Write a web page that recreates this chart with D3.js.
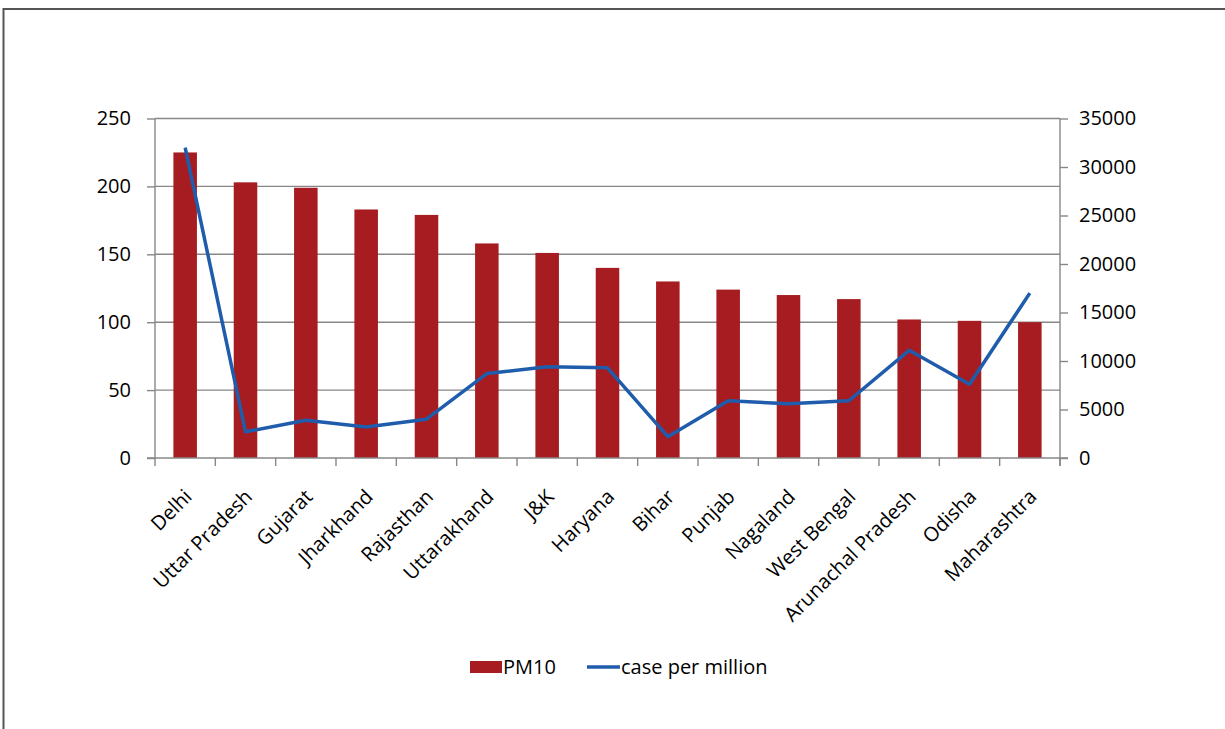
<!DOCTYPE html>
<html>
<head>
<meta charset="utf-8">
<script src="https://cdn.jsdelivr.net/npm/d3@7"></script>
<style>
  body { margin: 0; background: #fff; }
  text { font-family: "Open Sans", Lato, sans-serif; fill: #000; }
</style>
</head>
<body>
<div id="chart"></div>
<script>
// data
const states = ["Delhi", "Uttar Pradesh", "Gujarat", "Jharkhand", "Rajasthan", "Uttarakhand", "J&K",
  "Haryana", "Bihar", "Punjab", "Nagaland", "West Bengal", "Arunachal Pradesh", "Odisha", "Maharashtra"];
const pm10 = [225, 203, 199, 183, 179, 158, 151, 140, 130, 124, 120, 117, 102, 101, 100];
const casesPerMillion = [32000, 2700, 3900, 3200, 4000, 8700, 9400, 9300, 2200, 5900, 5600, 5900, 11100, 7600, 17000];
const leftTicks = [0, 50, 100, 150, 200, 250];
const rightTicks = [0, 5000, 10000, 15000, 20000, 25000, 30000, 35000];

const W = 1225, H = 729;
const margin = { top: 118.5, right: 165, bottom: 271, left: 155 };
const barColor = "#a61c21";
const lineColor = "#1f5dac";
const gridColor = "#878787";
const fontSize = "20px";

const svg = d3.select("#chart").append("svg")
    .attr("width", W)
    .attr("height", H);

// outer frame
svg.append("rect")
    .attr("x", 3.5).attr("y", 9)
    .attr("width", W + 10).attr("height", H + 10)
    .attr("fill", "none")
    .attr("stroke", "#555")
    .attr("stroke-width", 2);

const x = d3.scaleBand()
    .domain(states)
    .range([margin.left, W - margin.right])
    .paddingInner(0.61)
    .paddingOuter(0.305);

const yL = d3.scaleLinear().domain([0, 250]).range([H - margin.bottom, margin.top]);
const yR = d3.scaleLinear().domain([0, 35000]).range([H - margin.bottom, margin.top]);

// GRID LINES
svg.selectAll(".grid-line")
    .data(leftTicks.filter(d => d > 0))
    .enter()
    .append("line")
    .attr("x1", margin.left)
    .attr("x2", W - margin.right)
    .attr("y1", d => yL(d))
    .attr("y2", d => yL(d))
    .attr("stroke", gridColor)
    .attr("stroke-width", 1.4);

// BARS
svg.selectAll(".bar")
    .data(states)
    .enter()
    .append("rect")
    .attr("x", d => x(d))
    .attr("y", (d, i) => yL(pm10[i]))
    .attr("width", x.bandwidth())
    .attr("height", (d, i) => yL(0) - yL(pm10[i]))
    .attr("fill", barColor);

// LINE
const line = d3.line()
    .x(d => x(d.state) + x.bandwidth() / 2)
    .y(d => yR(d.value));

svg.append("path")
    .datum(states.map((s, i) => ({ state: s, value: casesPerMillion[i] })))
    .attr("d", line)
    .attr("fill", "none")
    .attr("stroke", lineColor)
    .attr("stroke-width", 3.5)
    .attr("stroke-linejoin", "round");

// LEFT AXIS
const leftAxis = svg.append("g")
    .attr("transform", `translate(${margin.left},0)`)
    .call(d3.axisLeft(yL).tickValues(leftTicks).tickSize(8).tickPadding(16));

// RIGHT AXIS
const rightAxis = svg.append("g")
    .attr("transform", `translate(${W - margin.right},0)`)
    .call(d3.axisRight(yR).tickValues(rightTicks).tickFormat(d3.format("d")).tickSize(8).tickPadding(11));

// X AXIS (ticks at category boundaries)
const step = x.step();
const boundaries = d3.range(states.length + 1).map(i => margin.left + i * step);
const xAxis = svg.append("g");
xAxis.append("line")
    .attr("x1", margin.left - 8).attr("x2", W - margin.right + 8)
    .attr("y1", yL(0)).attr("y2", yL(0))
    .attr("stroke", gridColor).attr("stroke-width", 1.4);
xAxis.selectAll(".xtick")
    .data(boundaries)
    .enter()
    .append("line")
    .attr("x1", d => d).attr("x2", d => d)
    .attr("y1", yL(0)).attr("y2", yL(0) + 8)
    .attr("stroke", gridColor).attr("stroke-width", 1.4);

xAxis.selectAll(".xlabel")
    .data(states)
    .enter()
    .append("text")
    .attr("transform", d => `translate(${x(d) + x.bandwidth() / 2 + 8},${yL(0) + 40}) rotate(-45)`)
    .attr("text-anchor", "end")
    .attr("font-size", fontSize)
    .text(d => d);

[leftAxis, rightAxis].forEach(g => {
    g.selectAll("path.domain").attr("stroke", gridColor).attr("stroke-width", 1.4);
    g.selectAll(".tick line").attr("stroke", gridColor).attr("stroke-width", 1.4);
    g.selectAll(".tick text").attr("font-size", fontSize).attr("fill", "#000")
        .style("font-family", "'Open Sans', Lato, sans-serif");
});
leftAxis.select("path.domain").attr("d", `M0,${yL(0)}V${margin.top}`);
rightAxis.select("path.domain").attr("d", `M0,${yL(0) + 8}V${margin.top}`);

// LEGEND
const legend = svg.append("g").attr("transform", "translate(470,667)");
legend.append("rect")
    .attr("x", 0).attr("y", -6)
    .attr("width", 32).attr("height", 12)
    .attr("fill", barColor);
legend.append("text")
    .attr("x", 33).attr("y", 7)
    .attr("font-size", fontSize)
    .text("PM10");
legend.append("line")
    .attr("x1", 117).attr("x2", 150)
    .attr("y1", 0).attr("y2", 0)
    .attr("stroke", lineColor).attr("stroke-width", 3.5);
legend.append("text")
    .attr("x", 151).attr("y", 7)
    .attr("font-size", fontSize)
    .text("case per million");
</script>
</body>
</html>
